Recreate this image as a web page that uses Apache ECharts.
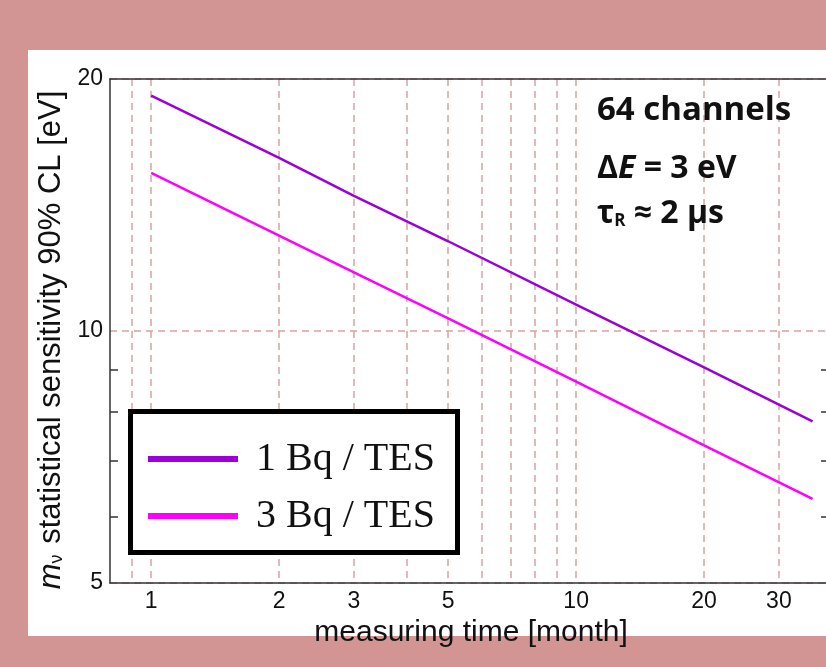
<!DOCTYPE html>
<html><head><meta charset="utf-8">
<script src="https://cdn.jsdelivr.net/npm/echarts@6/dist/echarts.min.js"></script>
<style>
html,body{margin:0;padding:0;background:#d39594;overflow:hidden;width:826px;height:667px}
#panel{position:absolute;left:28px;top:50px;width:798px;height:586px;background:#fff}
#c{position:absolute;left:0;top:0;width:850px;height:667px}
</style>
</head><body><div id="panel"></div><div id="c"></div>
<script>
// Data
const months = [1, 2, 3, 5, 10, 20, 36];
const sens1Bq = [19.1, 16.1, 14.5, 12.8, 10.75, 9.05, 7.8];
const sens3Bq = [15.45, 13.0, 11.75, 10.35, 8.7, 7.3, 6.3];
const seriesNames = ['1 Bq / TES', '3 Bq / TES'];
const xGridTicks = [0.9, 1, 2, 3, 4, 5, 6, 7, 8, 9, 10, 20, 30];
const xLabelTicks = [1, 2, 3, 5, 10, 20, 30];
const yLabelTicks = [5, 10, 20];
const yMinorTicks = [6, 7, 8, 9];

const toPairs = (xs, ys) => xs.map((x, i) => [x, ys[i]]);

const gridColor = '#d9a3a3';
const axisColor = '#333';
const sans = 'Liberation Sans';

const chart = echarts.init(document.getElementById('c'), null, {renderer: 'canvas'});
chart.setOption({
  backgroundColor: 'transparent',
  animation: false,
  grid: {left: 110, top: 79, right: 18, bottom: 84},
  xAxis: [
    {
      type: 'log', logBase: 10, min: 0.8, max: 40,
      name: 'measuring time [month]', nameLocation: 'middle', nameGap: 31,
      nameTextStyle: {fontFamily: sans, fontSize: 30, color: '#111'},
      axisLine: {show: true, lineStyle: {color: axisColor, width: 1.5}},
      axisTick: {show: false, customValues: xGridTicks},
      axisLabel: {customValues: xLabelTicks, fontFamily: sans, fontSize: 23, color: '#111', margin: 7},
      splitLine: {show: true, lineStyle: {color: gridColor, width: 1.5, type: [7, 5]}}
    },
    {
      type: 'log', logBase: 10, min: 0.8, max: 40, position: 'top',
      axisLine: {show: true, lineStyle: {color: axisColor, width: 1.5}},
      axisTick: {show: false}, axisLabel: {show: false}, splitLine: {show: false}
    }
  ],
  yAxis: [
    {
      type: 'log', logBase: 10, min: 5, max: 20,
      name: '{i|m}{s|ν} statistical sensitivity 90% CL [eV]',
      nameLocation: 'middle', nameGap: 40, nameRotate: 90,
      nameTextStyle: {fontFamily: sans, fontSize: 31, color: '#111', padding: [0, 18, 0, 0],
        rich: {i: {fontFamily: sans, fontSize: 31, fontStyle: 'italic', color: '#111'},
               s: {fontFamily: sans, fontSize: 18, color: '#111', verticalAlign: 'bottom', padding: [12, 2, 0, 0]}}},
      axisLine: {show: true, lineStyle: {color: axisColor, width: 1.5}},
      axisTick: {show: false, customValues: yLabelTicks},
      axisLabel: {customValues: yLabelTicks, fontFamily: sans, fontSize: 23, color: '#111', margin: 7},
      splitLine: {show: true, lineStyle: {color: gridColor, width: 1.5, type: [7, 5]}}
    },
    {
      type: 'log', logBase: 10, min: 5, max: 20, position: 'left',
      axisLine: {show: false},
      axisTick: {show: true, inside: true, length: 8, customValues: yMinorTicks, lineStyle: {color: axisColor, width: 1.5}},
      axisLabel: {show: false}, splitLine: {show: false}
    },
    {
      type: 'log', logBase: 10, min: 5, max: 20, position: 'right',
      axisLine: {show: true, lineStyle: {color: axisColor, width: 1.5}},
      axisTick: {show: true, inside: true, length: 11, customValues: yMinorTicks, lineStyle: {color: axisColor, width: 1.5}},
      axisLabel: {show: false}, splitLine: {show: false}
    }
  ],
  legend: {
    left: 148, top: 439, orient: 'vertical', padding: 0,
    itemWidth: 90, itemHeight: 6, icon: 'rect', itemGap: 17,
    selectedMode: false, z: 10,
    textStyle: {fontFamily: 'Liberation Serif', fontSize: 40, color: '#111', padding: [0, 0, 0, 13]},
    data: seriesNames
  },
  graphic: [
    {type: 'rect', z: 8, shape: {x: 130.5, y: 411.5, width: 327, height: 141},
     style: {fill: '#fff', stroke: '#000', lineWidth: 5}},
    {type: 'text', z: 8, left: 597, top: 94,
     style: {text: '64 channels', font: 'bold 33px "Open Sans"', fill: '#111'}},
    {type: 'text', z: 8, left: 597, top: 153,
     style: {text: '{a|Δ}{b|E}{a| = 3 eV}', fill: '#111',
       rich: {a: {font: 'bold 32px "Open Sans"', fill: '#111'}, b: {font: 'italic bold 32px "Open Sans"', fill: '#111'}}}},
    {type: 'text', z: 8, left: 597, top: 198,
     style: {text: '{a|τ}{s|R}{a| ≈ 2 μs}', fill: '#111',
       rich: {a: {font: 'bold 32px "Open Sans"', fill: '#111'}, s: {font: 'bold 17px "Open Sans"', fill: '#111', verticalAlign: 'bottom', padding: [8, 0, 0, 0]}}}}
  ],
  series: [
    {name: seriesNames[0], type: 'line', xAxisIndex: 0, yAxisIndex: 0, showSymbol: false,
     data: toPairs(months, sens1Bq), itemStyle: {color: '#9c00d8'}, lineStyle: {color: '#9c00d8', width: 2.5}},
    {name: seriesNames[1], type: 'line', xAxisIndex: 0, yAxisIndex: 0, showSymbol: false,
     data: toPairs(months, sens3Bq), itemStyle: {color: '#ff00ff'}, lineStyle: {color: '#ff00ff', width: 2.5}}
  ]
});
</script></body></html>
